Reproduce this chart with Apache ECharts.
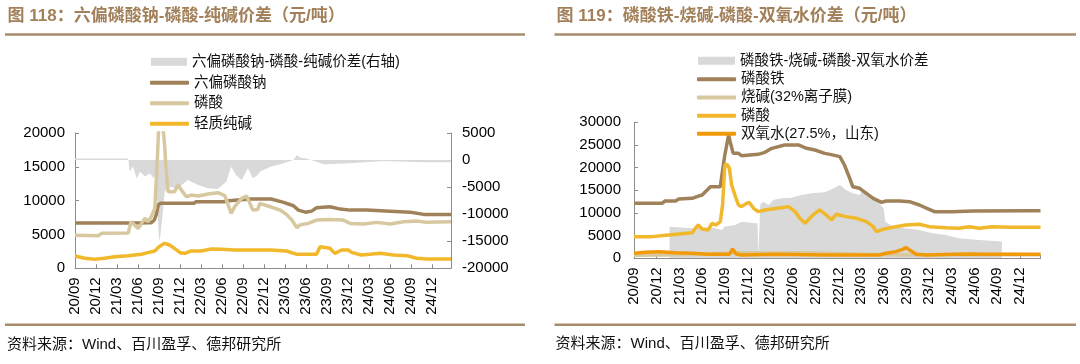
<!DOCTYPE html>
<html><head><meta charset="utf-8">
<script src="https://cdn.jsdelivr.net/npm/echarts@6/dist/echarts.min.js"></script>
<style>html,body{margin:0;padding:0;background:#fff}#c{width:1080px;height:364px}</style>
</head><body><div id="c"></div>
<script>
// ---------- tick labels ----------
const xTickLabels = ['20/09','20/12','21/03','21/06','21/09','21/12','22/03','22/06','22/09','22/12','23/03','23/06','23/09','23/12','24/03','24/06','24/09','24/12'];

// ---------- 图118 ----------
const hmpDates = ['2020-09-01','2021-04-25','2021-07-28','2021-08-10','2021-08-19','2021-08-28','2021-09-07','2022-02-01','2022-02-10','2022-06-13','2022-07-01','2022-10-01','2023-01-01','2023-02-25','2023-04-07','2023-04-28','2023-05-28','2023-06-25','2023-07-16','2023-09-13','2023-10-28','2023-12-10','2024-02-22','2024-06-01','2024-08-28','2024-10-25','2025-02-22'];
const hmpValues = [6700,6700,6750,7100,7900,9400,9600,9600,9850,9850,10000,10250,10250,9750,9250,8600,8300,8450,8950,9100,8750,8600,8600,8450,8270,7970,7970];

const phosLDates = ['2020-09-01','2020-12-10','2020-12-25','2021-04-19','2021-04-25','2021-05-01','2021-05-16','2021-06-01','2021-06-16','2021-07-01','2021-07-13','2021-07-28','2021-08-13','2021-08-25','2021-08-29','2021-09-19','2021-09-25','2021-10-01','2021-10-10','2021-11-07','2021-11-22','2021-12-07','2021-12-28','2022-01-19','2022-02-19','2022-04-01','2022-05-13','2022-06-13','2022-07-10','2022-07-25','2022-08-25','2022-09-16','2022-10-13','2022-11-04','2022-11-13','2022-12-28','2023-02-10','2023-03-07','2023-03-30','2023-04-22','2023-05-04','2023-06-10','2023-07-16','2023-09-13','2023-11-10','2023-12-10','2024-02-07','2024-04-04','2024-06-01','2024-07-28','2024-09-25','2024-11-07','2025-02-22'];
const phosLValues = [4900,4820,5170,5200,5400,6900,6400,5900,6640,7400,6900,7630,8860,17000,20500,20500,18200,14760,11300,11300,12300,11560,10580,10820,10680,10970,11170,10730,8120,9100,10330,10680,8610,8700,9590,9100,8610,7970,7130,6000,6400,6640,7130,7230,7130,6640,6540,6790,6540,6890,6990,6790,6890];

const sodaDates = ['2020-09-01','2020-10-13','2020-11-25','2021-01-07','2021-02-22','2021-04-19','2021-06-16','2021-07-13','2021-08-13','2021-09-01','2021-09-25','2021-10-16','2021-11-07','2021-12-01','2021-12-22','2022-01-19','2022-03-01','2022-04-16','2022-05-28','2022-07-25','2022-12-28','2023-03-07','2023-04-22','2023-07-16','2023-08-01','2023-09-13','2023-10-04','2023-11-04','2023-12-02','2023-12-16','2024-01-28','2024-03-04','2024-04-19','2024-06-16','2024-08-13','2024-09-25','2024-11-07','2025-02-22'];
const sodaValues = [1820,1480,1330,1480,1720,1870,2070,2310,2560,3200,3690,3440,2950,2310,2210,2560,2560,2850,2800,2700,2700,2560,2070,2070,3200,2950,2210,2700,2700,2360,1970,2070,2210,1970,1870,1480,1380,1380];

const spreadLDates = ['2020-09-01','2021-04-19','2021-04-25','2021-05-10','2021-05-25','2021-06-10','2021-07-01','2021-07-22','2021-08-07','2021-08-16','2021-08-25','2021-09-01','2021-09-07','2021-09-19','2021-09-25','2021-10-10','2021-11-22','2022-01-04','2022-02-19','2022-04-01','2022-05-13','2022-06-19','2022-07-10','2022-08-01','2022-08-25','2022-09-22','2022-10-13','2022-11-04','2022-11-13','2022-12-28','2023-02-25','2023-04-07','2023-04-22','2023-05-04','2023-06-01','2023-07-16','2023-08-16','2023-12-10','2024-05-01','2024-08-13','2024-10-25','2025-02-22'];
const spreadLValues = [300,300,-2140,-1210,-3370,-2140,-3060,-2450,-3370,-2750,-8900,-15100,-13800,-8900,-5850,-4900,-5200,-3680,-4600,-5200,-5340,-3990,-1220,-2750,-3680,-1520,-3370,-2750,-2140,-1220,-600,0,940,450,300,-290,-780,-600,-170,-290,-410,-410];

// ---------- 图119 ----------
const fepDates = ['2020-09-01','2020-12-22','2021-01-04','2021-02-16','2021-02-28','2021-04-22','2021-05-10','2021-06-01','2021-07-04','2021-08-13','2021-08-25','2021-09-01','2021-09-16','2021-09-22','2021-10-04','2021-10-25','2021-11-07','2022-01-13','2022-02-10','2022-03-07','2022-04-28','2022-06-22','2022-07-25','2022-08-28','2022-10-07','2022-10-28','2022-12-07','2022-12-25','2023-01-16','2023-01-28','2023-02-25','2023-03-22','2023-04-19','2023-05-22','2023-06-10','2023-08-04','2023-09-13','2023-10-22','2023-12-01','2023-12-22','2024-03-04','2024-05-22','2025-01-07','2025-02-22'];
const fepValues = [12130,12130,12640,12640,13080,13230,13600,13970,15800,15800,20580,22790,27200,25730,23150,23150,22640,22930,23370,24260,25000,25000,24260,23890,23150,22930,22420,20580,17640,15800,15440,14330,13230,12350,12640,12640,12500,11760,10800,10290,10290,10440,10510,10510];

const causticDates = ['2020-09-01','2021-01-01','2021-06-01','2021-09-01','2021-11-01','2022-03-01','2022-07-01','2022-11-01','2023-03-01','2023-07-01','2023-11-01','2024-03-01','2024-07-01','2024-11-01','2025-02-22'];
const causticValues = [700,750,900,1100,1200,1150,1200,1100,900,800,750,800,780,820,800];

const phosRDates = ['2020-09-01','2020-11-13','2021-01-19','2021-04-22','2021-05-04','2021-05-16','2021-06-01','2021-06-25','2021-07-10','2021-07-25','2021-08-13','2021-08-22','2021-09-01','2021-09-10','2021-09-19','2021-09-28','2021-10-13','2021-10-25','2021-11-07','2021-11-28','2021-12-07','2021-12-25','2022-01-13','2022-02-10','2022-03-07','2022-04-16','2022-05-13','2022-06-10','2022-06-28','2022-07-19','2022-08-07','2022-08-28','2022-09-16','2022-10-13','2022-11-04','2022-11-22','2023-01-01','2023-02-13','2023-03-22','2023-04-19','2023-05-01','2023-05-28','2023-07-19','2023-08-28','2023-10-22','2023-12-01','2024-02-07','2024-03-28','2024-05-10','2024-06-19','2024-08-10','2024-11-01','2025-02-22'];
const phosRValues = [4780,4780,5150,5660,6620,7350,6470,6250,7720,7350,8090,11760,20580,20730,19850,16170,13600,11760,11400,12130,12350,11030,10290,10660,10880,11170,11400,10290,8820,7720,8820,9920,10660,9560,8450,9700,9190,8820,8090,6980,5880,6390,6980,7350,7500,6980,6760,6620,6980,6620,6980,6840,6840];

const h2o2Dates = ['2020-09-01','2020-10-16','2020-12-10','2021-02-16','2021-04-22','2021-06-25','2021-09-19','2021-10-02','2021-10-16','2021-11-07','2022-03-19','2022-05-25','2022-10-07','2023-05-13','2023-06-10','2023-07-19','2023-08-16','2023-08-29','2023-09-19','2023-10-10','2023-11-19','2024-03-04','2024-05-10','2024-07-16','2025-02-22'];
const h2o2Values = [1100,1320,1470,1250,1100,880,880,2050,950,735,880,850,735,735,1100,1470,1980,2350,1620,880,735,880,950,880,880];

const spreadRDates = ['2021-01-22','2021-04-22','2021-07-10','2021-08-19','2021-09-01','2021-10-13','2021-11-07','2022-01-01','2022-01-11','2022-01-13','2022-01-19','2022-01-22','2022-02-04','2022-02-25','2022-03-13','2022-04-16','2022-05-25','2022-07-04','2022-08-16','2022-10-07','2022-10-28','2022-12-07','2023-01-01','2023-01-28','2023-02-25','2023-03-07','2023-04-19','2023-05-13','2023-06-01','2023-06-07','2023-07-07','2023-08-28','2023-10-22','2023-12-13','2024-02-07','2024-03-28','2024-06-19','2024-09-19'];
const spreadRValues = [6980,6620,6800,6250,7000,7350,8090,7720,7720,0,0,12000,12500,11760,12860,13230,13380,13970,14330,14550,15070,16170,15070,14330,13970,15070,13230,12130,11000,8090,6980,6620,6250,5510,5150,4410,4040,3680];

// ---------- helpers ----------
const toM = s => { const p = s.split('-').map(Number); return (p[0]-2020)*12 + (p[1]-9) + (p[2]-1)/30; };
const pts = (ds, vs) => ds.map((d,i) => [toM(d), vs[i]]);
const X_MAX = 53.7;
const FONT = "'Liberation Sans', Arial, 'Noto Sans CJK SC', sans-serif";
const TITLE_COLOR = '#A2805A', RULE_COLOR = '#A88C6E', AXIS_COLOR = '#8C8C8C';
const C_BROWN = '#A0825A', C_BEIGE = '#D7C89F', C_YELLOW = '#F0B82A', C_ORANGE = '#F09A0A', C_GRAY = '#D9D9D9';

function xAxis(gridIndex) {
  return {
    type: 'value', gridIndex, min: 0, max: X_MAX, interval: 3,
    axisLine: { show: true, lineStyle: { color: AXIS_COLOR } },
    axisTick: { show: true, inside: true, length: 4, lineStyle: { color: AXIS_COLOR } },
    splitLine: { show: false },
    axisLabel: {
      rotate: 90, margin: 9, fontSize: 15, color: '#000', fontFamily: FONT,
      formatter: v => { const k = v / 3; return (Math.abs(k - Math.round(k)) < 1e-6 && xTickLabels[Math.round(k)]) || ''; }
    }
  };
}
function yAxis(gridIndex, position, min, max, margin) {
  return {
    type: 'value', gridIndex, position, min, max, interval: 5000,
    axisLine: { show: true, lineStyle: { color: AXIS_COLOR } },
    axisTick: { show: true, inside: true, length: 4, lineStyle: { color: AXIS_COLOR } },
    splitLine: { show: false },
    axisLabel: { margin, fontSize: 15, color: '#000', fontFamily: FONT, formatter: v => String(v) }
  };
}
function lineSeries(name, xi, yi, color, data) {
  return { name, type: 'line', xAxisIndex: xi, yAxisIndex: yi, data, showSymbol: false, symbol: 'none',
    color, itemStyle: { color }, lineStyle: { color, width: 3.5 }, silent: true };
}
function areaSeries(name, xi, yi, data) {
  return { name, type: 'line', xAxisIndex: xi, yAxisIndex: yi, data, showSymbol: false, symbol: 'none',
    color: C_GRAY, itemStyle: { color: C_GRAY }, lineStyle: { width: 0, opacity: 0 },
    areaStyle: { color: C_GRAY, opacity: 1 }, silent: true };
}
const legText = { fontSize: 14.5, color: '#111', fontFamily: FONT, lineHeight: 14 };

const chart = echarts.init(document.getElementById('c'), null, { renderer: 'canvas' });
chart.setOption({
  animation: false,
  backgroundColor: '#fff',
  textStyle: { fontFamily: FONT },
  grid: [
    { left: 75, top: 133, width: 376, height: 135.3 },
    { left: 634, top: 122.3, width: 406.5, height: 136 }
  ],
  xAxis: [xAxis(0), xAxis(1)],
  yAxis: [
    yAxis(0, 'left', 0, 20000, 10),
    yAxis(0, 'right', -20000, 5000, 11),
    yAxis(1, 'left', 0, 30000, 13)
  ],
  legend: [
    { data: ['六偏磷酸钠-磷酸-纯碱价差(右轴)'], orient: 'vertical', left: 151, top: 54.6, padding: 0,
      icon: 'rect', itemWidth: 36, itemHeight: 8, textStyle: legText, selectedMode: false },
    { data: ['六偏磷酸钠', '磷酸', '轻质纯碱'], orient: 'vertical', left: 150, top: 75.4, padding: 0,
      icon: 'roundRect', itemWidth: 39, itemHeight: 4, itemGap: 6, textStyle: legText, selectedMode: false },
    { data: ['磷酸铁-烧碱-磷酸-双氧水价差'], orient: 'vertical', left: 698, top: 53.6, padding: 0,
      icon: 'rect', itemWidth: 37, itemHeight: 8, textStyle: legText, selectedMode: false },
    { data: ['磷酸铁', '烧碱(32%离子膜)', '磷酸#2', '双氧水(27.5%，山东)'], orient: 'vertical', left: 697, top: 72, padding: 0,
      icon: 'roundRect', itemWidth: 39, itemHeight: 4, itemGap: 3.7, textStyle: legText, selectedMode: false,
      formatter: n => n.replace(/#.*$/, '') }
  ],
  series: [
    areaSeries('六偏磷酸钠-磷酸-纯碱价差(右轴)', 0, 1, pts(spreadLDates, spreadLValues)),
    lineSeries('六偏磷酸钠', 0, 0, C_BROWN, pts(hmpDates, hmpValues)),
    lineSeries('磷酸', 0, 0, C_BEIGE, pts(phosLDates, phosLValues)),
    lineSeries('轻质纯碱', 0, 0, C_YELLOW, pts(sodaDates, sodaValues)),
    areaSeries('磷酸铁-烧碱-磷酸-双氧水价差', 1, 2, pts(spreadRDates, spreadRValues)),
    lineSeries('磷酸铁', 1, 2, C_BROWN, pts(fepDates, fepValues)),
    lineSeries('烧碱(32%离子膜)', 1, 2, C_BEIGE, pts(causticDates, causticValues)),
    lineSeries('磷酸#2', 1, 2, C_YELLOW, pts(phosRDates, phosRValues)),
    lineSeries('双氧水(27.5%，山东)', 1, 2, C_ORANGE, pts(h2o2Dates, h2o2Values))
  ],
  graphic: [
    { type: 'text', x: 7.6, y: 16.6, style: { text: '图 118：六偏磷酸钠-磷酸-纯碱价差（元/吨）', fill: TITLE_COLOR,
      fontSize: 17, fontWeight: 'bold', fontFamily: FONT, verticalAlign: 'middle' } },
    { type: 'text', x: 556.6, y: 16.6, style: { text: '图 119：磷酸铁-烧碱-磷酸-双氧水价差（元/吨）', fill: TITLE_COLOR,
      fontSize: 17, fontWeight: 'bold', fontFamily: FONT, verticalAlign: 'middle' } },
    { type: 'line', shape: { x1: 5, y1: 34.6, x2: 525, y2: 34.6 }, style: { stroke: RULE_COLOR, lineWidth: 2.5 } },
    { type: 'line', shape: { x1: 554.5, y1: 34.6, x2: 1076, y2: 34.6 }, style: { stroke: RULE_COLOR, lineWidth: 2.5 } },
    { type: 'line', shape: { x1: 5, y1: 324.7, x2: 525, y2: 324.7 }, style: { stroke: RULE_COLOR, lineWidth: 2.5 } },
    { type: 'line', shape: { x1: 554.5, y1: 324.7, x2: 1076, y2: 324.7 }, style: { stroke: RULE_COLOR, lineWidth: 2.5 } },
    { type: 'text', x: 7, y: 344.4, style: { text: '资料来源：Wind、百川盈孚、德邦研究所', fill: '#111',
      fontSize: 15, fontFamily: FONT, verticalAlign: 'middle' } },
    { type: 'text', x: 555.6, y: 344, style: { text: '资料来源：Wind、百川盈孚、德邦研究所', fill: '#111',
      fontSize: 15, fontFamily: FONT, verticalAlign: 'middle' } }
  ]
});
</script></body></html>
